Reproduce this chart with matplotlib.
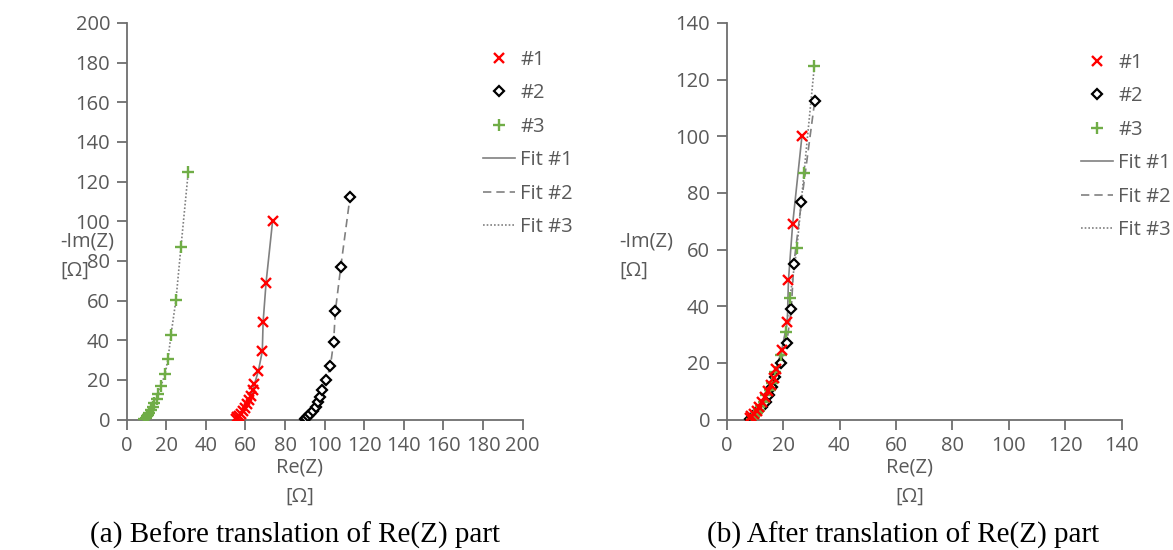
import matplotlib
matplotlib.use("Agg")
import matplotlib.pyplot as plt

# impedance data, Re(Z) and -Im(Z) in Ohm
re1 = [55.1, 55.7, 56.6, 57.6, 58.6, 59.6, 60.6, 61.8, 62.8, 63.6, 64.5, 66.5, 68.5, 68.9, 70.4, 73.7]
im1 = [0.5, 1.2, 2.0, 3.0, 4.4, 6.1, 8.1, 10.1, 12.1, 14.8, 17.8, 24.5, 34.5, 49.2, 69.1, 100.2]
re2 = [89.9, 90.7, 91.8, 92.8, 94.1, 95.5, 96.6, 97.8, 98.8, 100.7, 102.9, 104.5, 105.4, 108.1, 112.8]
im2 = [0.2, 0.7, 1.7, 2.9, 4.4, 6.4, 8.7, 11.4, 15.1, 20.0, 27.1, 39.0, 54.8, 76.8, 112.3]
re3 = [8.9, 9.6, 10.1, 10.8, 11.4, 12.3, 13.1, 14.0, 15.2, 16.0, 17.2, 19.4, 20.9, 22.4, 24.9, 27.4, 31.1]
im3 = [0.3, 1.0, 1.7, 2.4, 3.4, 4.7, 6.4, 8.6, 10.6, 13.1, 16.8, 22.9, 30.8, 42.9, 60.5, 86.9, 124.9]

# Re(Z) translation applied in panel (b)
shifts = [47.0, 81.6, 0.0]

labels = ["#1", "#2", "#3"]
fit_labels = ["Fit #1", "Fit #2", "Fit #3"]
captions = ["(a) Before translation of Re(Z) part", "(b) After translation of Re(Z) part"]
limits = [200, 140]

FONT = "Open Sans"
FS = 14.5
TXT = "#595959"
AX = "#6e6e6e"
GRAY = "#808080"

plt.rcParams["font.family"] = [FONT, "DejaVu Sans"]

fig = plt.figure(figsize=(11.73, 5.5), dpi=100)
axes = [fig.add_axes([0.108, 0.237, 0.3376, 0.7215]),
        fig.add_axes([0.6195, 0.237, 0.3367, 0.7215])]

data = [(re1, im1), (re2, im2), (re3, im3)]

for k, ax in enumerate(axes):
    xs = []
    for i, (re, im) in enumerate(data):
        s = shifts[i] if k == 1 else 0.0
        xs.append([v - s for v in re])

    fit_styles = ["-", (0, (5, 3)), (0, (1, 1.2))]
    fit_lines = []
    for i in range(3):
        ln, = ax.plot(xs[i], data[i][1], color=GRAY, linestyle=fit_styles[i],
                      linewidth=1.2, zorder=2, label=fit_labels[i])
        fit_lines.append(ln)

    m1, = ax.plot(xs[0], im1, linestyle="none", marker="x", color="#ff0000",
                  markersize=6.5, markeredgewidth=1.7, zorder=3, label=labels[0])
    m2, = ax.plot(xs[1], im2, linestyle="none", marker="D", markerfacecolor="white",
                  markeredgecolor="black", markersize=4.8, markeredgewidth=1.6,
                  zorder=3, label=labels[1])
    m3, = ax.plot(xs[2], im3, linestyle="none", marker="+", color="#70ad47",
                  markersize=8.5, markeredgewidth=1.7, zorder=4, label=labels[2])
    if k == 1:
        # red drawn on top in panel (b)
        m1.set_zorder(5)

    lim = limits[k]
    ax.set_xlim(0, lim)
    ax.set_ylim(0, lim)
    ax.set_xticks(range(0, lim + 1, 20))
    ax.set_yticks(range(0, lim + 1, 20))
    for sp in ["top", "right"]:
        ax.spines[sp].set_visible(False)
    for sp in ["left", "bottom"]:
        ax.spines[sp].set_color(AX)
        ax.spines[sp].set_linewidth(1.3)
    ax.tick_params(direction="out", length=7, width=1.3, color=AX,
                   labelsize=FS, labelcolor=TXT, pad=5)

    ax.legend(handles=[m1, m2, m3] + fit_lines, frameon=False, fontsize=FS,
              labelcolor=TXT, loc="upper left",
              bbox_to_anchor=((483 if k == 0 else 1081) / 1173,
                              1 - (50 if k == 0 else 53) / 550),
              bbox_transform=fig.transFigure, borderaxespad=0, borderpad=0,
              handlelength=1.6, handletextpad=0.25, labelspacing=0.67)

    # axis titles placed as in the original
    yx = 60 if k == 0 else 619
    fig.text(yx / 1173, 1 - 242 / 550, "-Im(Z)", fontsize=FS, color=TXT,
             ha="left", va="center")
    fig.text(yx / 1173, 1 - 271 / 550, "[\u03a9]", fontsize=FS, color=TXT,
             ha="left", va="center")
    xx = 300 if k == 0 else 910
    fig.text(xx / 1173, 1 - 468 / 550, "Re(Z)", fontsize=FS, color=TXT,
             ha="center", va="center")
    fig.text(xx / 1173, 1 - 497 / 550, "[\u03a9]", fontsize=FS, color=TXT,
             ha="center", va="center")

    cx = 295 if k == 0 else 903
    fig.text(cx / 1173, 1 - 535 / 550, captions[k], fontsize=21, color="black",
             family="Liberation Serif", ha="center", va="center")

fig.savefig("out.png", dpi=100)
